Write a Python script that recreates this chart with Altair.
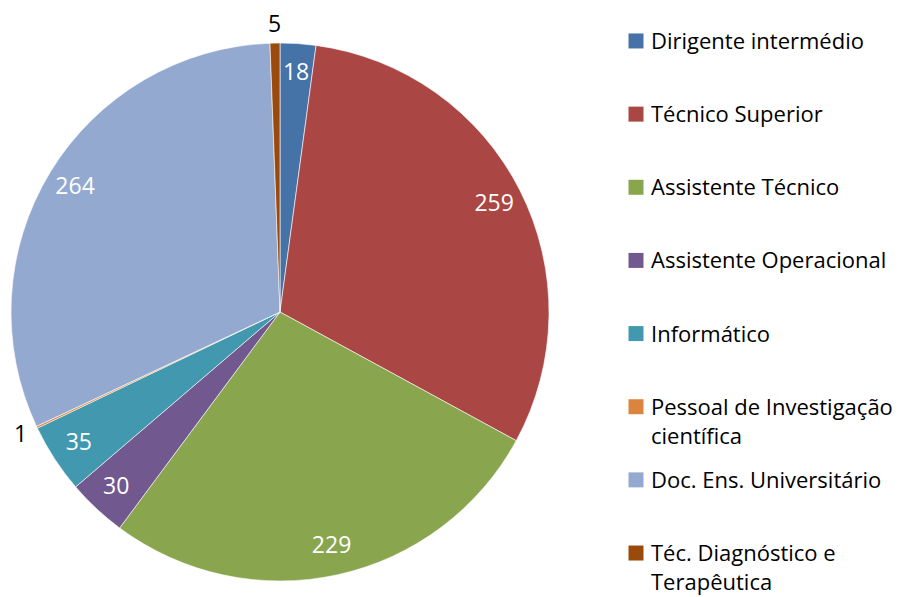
import altair as alt
import pandas as pd

categories = ["Dirigente intermédio", "Técnico Superior", "Assistente Técnico",
              "Assistente Operacional", "Informático",
              "Pessoal de Investigação científica", "Doc. Ens. Universitário",
              "Téc. Diagnóstico e Terapêutica"]
legend_labels = ["Dirigente intermédio", "Técnico Superior", "Assistente Técnico",
                 "Assistente Operacional", "Informático",
                 "Pessoal de Investigação\ncientífica", "Doc. Ens. Universitário",
                 "Téc. Diagnóstico e\nTerapêutica"]
values = [18, 259, 229, 30, 35, 1, 264, 5]
colors = ["#4572A7", "#AA4643", "#89A54E", "#71588F", "#4198AF", "#DB843D", "#93A9CF", "#9A4A0C"]

df = pd.DataFrame({"cat": categories, "label": legend_labels, "value": values,
                   "order": list(range(len(categories)))})

FONT = "Open Sans"
color = alt.Color("cat:N", scale=alt.Scale(domain=categories, range=colors), legend=None)

base = alt.Chart(df).encode(
    theta=alt.Theta("value:Q", stack=True),
    order=alt.Order("order:Q"),
    x=alt.value(272), y=alt.value(297),
)
arcs = base.mark_arc(radius=269, stroke="white", strokeWidth=0.6).encode(color=color)
inside = base.mark_text(radius=240, fontSize=23, font=FONT, color="white",
                        baseline="middle").encode(
    text=alt.condition("datum.value >= 10", alt.Text("value:Q"), alt.value(""))
)
outside = base.mark_text(radius=287, fontSize=23, font=FONT, color="black",
                         baseline="middle").encode(
    text=alt.condition("datum.value < 10", alt.Text("value:Q"), alt.value(""))
)
pie = (arcs + inside + outside).properties(width=560, height=570)

lbase = alt.Chart(df).encode(
    y=alt.Y("cat:N", sort=categories,
            scale=alt.Scale(type="point", domain=categories, padding=0.355), axis=None)
)
squares = lbase.mark_square(size=225, opacity=1).encode(x=alt.value(68), color=color)
texts = lbase.mark_text(align="left", baseline="alphabetic", dy=8, fontSize=22, font=FONT,
                        lineBreak="\n", lineHeight=29, color="black").encode(
    x=alt.value(83), text="label:N")
leg = (squares + texts).properties(width=320, height=564)

chart = alt.hconcat(pie, leg, spacing=0).properties(
    padding={"top": 6, "left": 0, "right": 0, "bottom": 0}
).configure_view(stroke=None)
chart.save("out.html", embed_options={"renderer": "svg", "actions": False})
